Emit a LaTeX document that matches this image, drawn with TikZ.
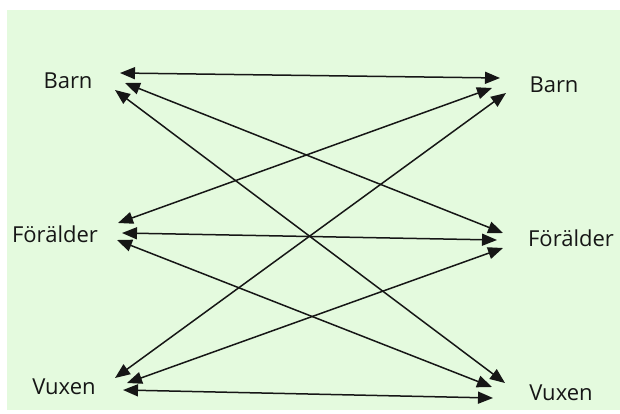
\documentclass[tikz,border=0pt]{standalone}
\usepackage{fontspec}
\setmainfont{Open Sans}
\usetikzlibrary{arrows.meta}
\usepackage{xcolor}
\definecolor{paleGreen}{HTML}{E4FADE}
\definecolor{inkBlack}{HTML}{161616}

\begin{document}
\begin{tikzpicture}[x=1pt, y=-1pt,
  lbl/.style={font=\fontsize{22}{22}\selectfont, text=inkBlack, inner sep=0pt},
  link/.style={inkBlack, line width=1.5pt,
    {Triangle[length=15pt,width=12pt]}-{Triangle[length=15pt,width=12pt]}}]

% === Wymiary ===
\useasboundingbox (0,0) rectangle (620,414);
\fill[white] (0,0) rectangle (620,414);

% === TŁO ===
\fill[paleGreen] (7,10) rectangle (620,410);

% === Etykiety — lewa strona ===
\node[lbl] (lBarn) at (68,81) {Barn};
\node[lbl] (lForalder) at (55,234) {Förälder};
\node[lbl] (lVuxen) at (64,387) {Vuxen};

% === Etykiety — prawa strona ===
\node[lbl] (rBarn) at (554,85) {Barn};
\node[lbl] (rForalder) at (571,238) {Förälder};
\node[lbl] (rVuxen) at (561,393) {Vuxen};

% === Końce strzałek ===
\coordinate (lb1) at (120,73);
\coordinate (lb2) at (125,83);
\coordinate (lb3) at (115,90);
\coordinate (lf1) at (118,223);
\coordinate (lf2) at (122,233);
\coordinate (lf3) at (117,240);
\coordinate (lv1) at (115,378);
\coordinate (lv2) at (127,383);
\coordinate (lv3) at (123,390);
\coordinate (rb1) at (500,78);
\coordinate (rb2) at (492,88);
\coordinate (rb3) at (506,93);
\coordinate (rf1) at (503,233);
\coordinate (rf2) at (497,240);
\coordinate (rf3) at (503,248);
\coordinate (rv1) at (505,383);
\coordinate (rv2) at (492,387);
\coordinate (rv3) at (493,398);

% === Strzałki ===
\foreach \a/\b in {lb1/rb1, lb2/rf1, lb3/rv1,
                   lf1/rb2, lf2/rf2, lf3/rv2,
                   lv1/rb3, lv2/rf3, lv3/rv3} {
  \draw[link] (\a) -- (\b);
}

\end{tikzpicture}
\end{document}
